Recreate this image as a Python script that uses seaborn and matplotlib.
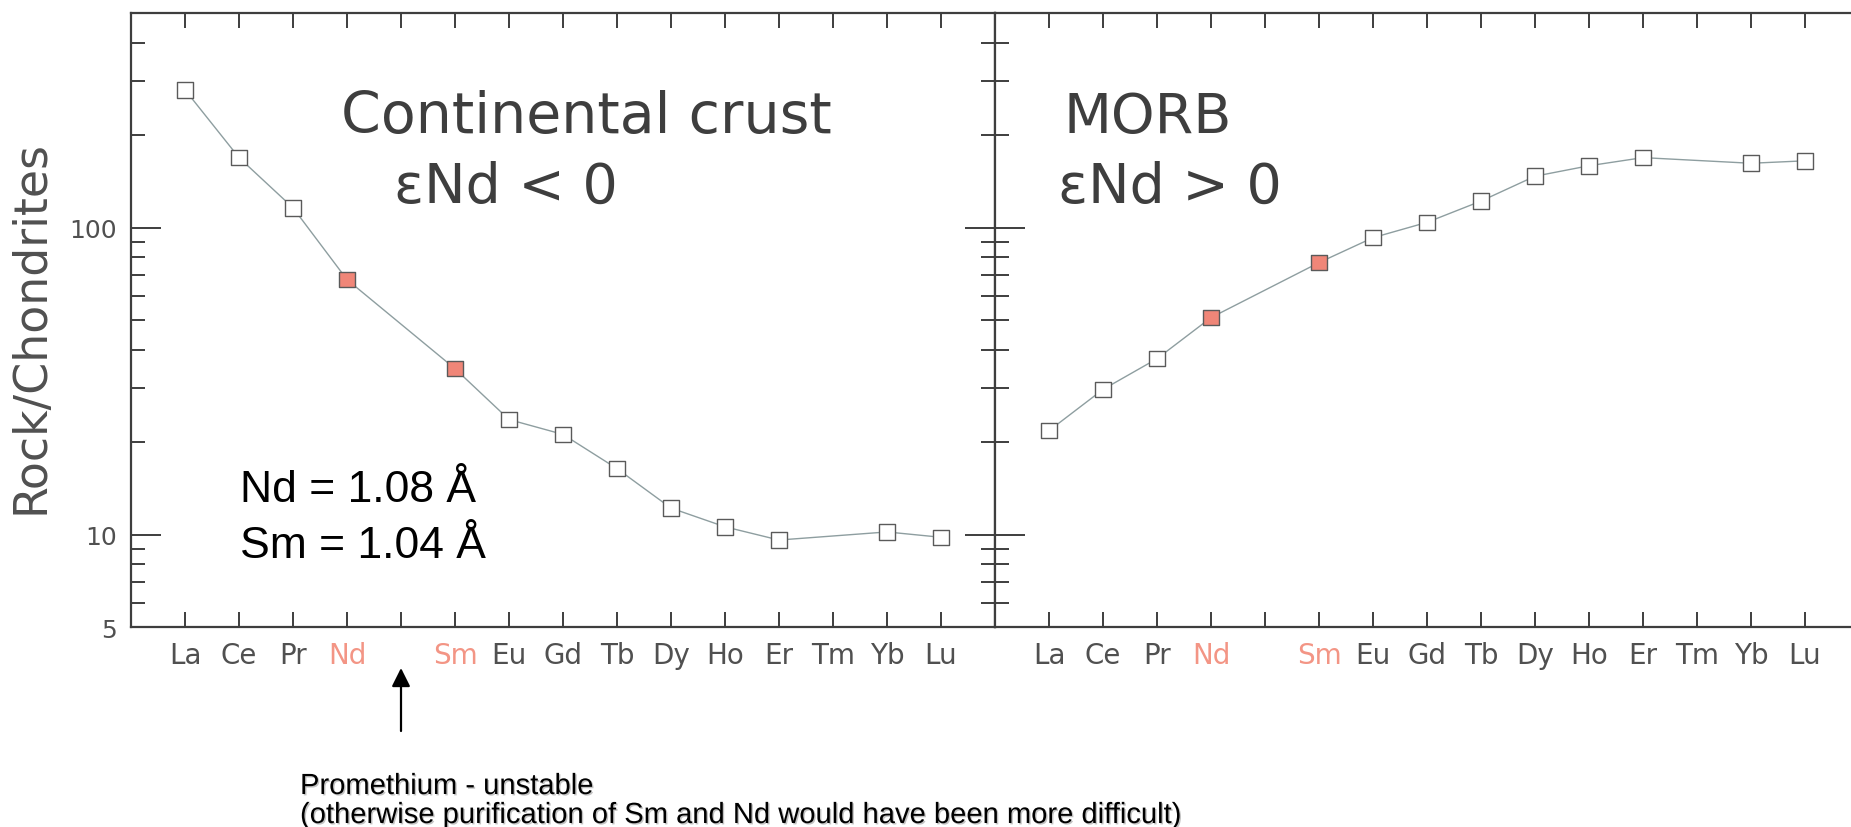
import numpy as np
import matplotlib
matplotlib.use("Agg")
import matplotlib.pyplot as plt
import matplotlib.patheffects as pe
from matplotlib import font_manager
from matplotlib.ticker import FixedLocator, LogLocator, NullFormatter
import pandas as pd
import seaborn as sns

# Rare earth element order (Pm has no stable isotope, so it carries no value)
ree_order = ["La", "Ce", "Pr", "Nd", "Pm", "Sm", "Eu", "Gd", "Tb", "Dy", "Ho", "Er", "Tm", "Yb", "Lu"]
ree_tick_labels = ["La", "Ce", "Pr", "Nd", "", "Sm", "Eu", "Gd", "Tb", "Dy", "Ho", "Er", "Tm", "Yb", "Lu"]
highlight_elements = ["Nd", "Sm"]

# Chondrite-normalised abundances
crust_elements = ["La", "Ce", "Pr", "Nd", "Sm", "Eu", "Gd", "Tb", "Dy", "Ho", "Er", "Yb", "Lu"]
crust_values = [281, 169, 116, 67.7, 34.7, 23.7, 21.2, 16.4, 12.2, 10.6, 9.6, 10.2, 9.8]

morb_elements = ["La", "Ce", "Pr", "Nd", "Sm", "Eu", "Gd", "Tb", "Dy", "Ho", "Er", "Yb", "Lu"]
morb_values = [21.8, 29.7, 37.4, 50.9, 76.9, 92.7, 104, 122, 147, 159, 169, 162, 165]

y_tick_values = [5, 10, 100]
y_tick_labels = ["5", "10", "100"]

sns.set_theme(style="ticks")
plt.rcParams["font.family"] = ["DejaVu Sans"]

INK = "#3e3e3e"
LABEL = "#505050"
SALMON = "#f08678"
SALMON_TEXT = "#f39585"
LINE = "#8e9ea0"

# condensed face for the footnote when available
installed = {f.name for f in font_manager.fontManager.ttflist}
if "Liberation Sans Narrow" in installed:
    note_family, note_size = ["Liberation Sans Narrow", "DejaVu Sans"], 25
else:
    note_family, note_size = ["Liberation Sans", "DejaVu Sans"], 21

W, H = 1851, 828
UNIT = 54.0  # pixels per element slot
fig = plt.figure(figsize=(W / 100, H / 100), dpi=100)
fig.patch.set_facecolor("white")

bottom = 1 - 628 / H
height = 614 / H
ax1 = fig.add_axes([131 / W, bottom, 864 / W, height])
# the right panel runs a little past the page edge
right_w = 890
ax2 = fig.add_axes([995 / W, bottom, right_w / W, height], sharey=ax1)


def draw_panel(ax, elements, values, xmax):
    df = pd.DataFrame({
        "pos": [ree_order.index(e) for e in elements],
        "value": values,
        "kind": ["isotope" if e in highlight_elements else "other" for e in elements],
    })
    sns.lineplot(data=df, x="pos", y="value", ax=ax, color=LINE, lw=1.0,
                 sort=False, estimator=None, zorder=2)
    sns.scatterplot(data=df, x="pos", y="value", hue="kind", ax=ax,
                    palette={"isotope": SALMON, "other": "white"},
                    marker="s", s=125, edgecolor="#5a5a5a", linewidth=1.0,
                    legend=False, zorder=3)

    ax.set_yscale("log")
    ax.set_ylim(5, 500)
    ax.set_xlim(-1, xmax)
    ax.set_xlabel("")
    ax.set_ylabel("")
    ax.set_facecolor("white")

    ax.set_xticks(range(len(ree_order)))
    ax.set_xticklabels(ree_tick_labels, fontsize=20, color=LABEL)
    for lbl, name in zip(ax.get_xticklabels(), ree_order):
        if name in highlight_elements:
            lbl.set_color(SALMON_TEXT)

    ax.yaxis.set_major_locator(FixedLocator(y_tick_values))
    ax.yaxis.set_minor_locator(LogLocator(base=10, subs=np.arange(2, 10)))
    ax.yaxis.set_minor_formatter(NullFormatter())

    ax.tick_params(axis="x", which="both", direction="in", top=True, bottom=True,
                   length=10.5, width=1.4, color=INK, pad=10)
    ax.tick_params(axis="y", which="major", direction="in", left=True, right=True,
                   length=21.5, width=1.4, color=INK, pad=10, labelsize=18,
                   labelcolor=LABEL)
    ax.tick_params(axis="y", which="minor", direction="in", left=True, right=True,
                   length=10, width=1.4, color=INK)
    for sp in ax.spines.values():
        sp.set_visible(True)
        sp.set_color(INK)
        sp.set_linewidth(1.6)


draw_panel(ax1, crust_elements, crust_values, 15)
draw_panel(ax2, morb_elements, morb_values, -1 + right_w / UNIT)

ax1.set_yticklabels(y_tick_labels)
ax2.tick_params(axis="y", which="both", labelleft=False)

# Panel captions
ax1.text(0.5266, 0.806, "Continental crust", transform=ax1.transAxes,
         ha="center", va="baseline", fontsize=41, color=INK)
ax1.text(0.434, 0.692, "\u03b5Nd < 0", transform=ax1.transAxes,
         ha="center", va="baseline", fontsize=40, color=INK)
ax2.text(68 / right_w, 0.806, "MORB", transform=ax2.transAxes,
         ha="left", va="baseline", fontsize=40, color=INK)
ax2.text(63 / right_w, 0.692, "\u03b5Nd > 0", transform=ax2.transAxes,
         ha="left", va="baseline", fontsize=40, color=INK)

# Ionic radii
ax1.text(0.126, 0.205, "Nd = 1.08 \u00c5", transform=ax1.transAxes,
         ha="left", va="baseline", fontsize=32, color="black",
         family=["Liberation Sans", "DejaVu Sans"])
ax1.text(0.126, 0.114, "Sm = 1.04 \u00c5", transform=ax1.transAxes,
         ha="left", va="baseline", fontsize=32, color="black",
         family=["Liberation Sans", "DejaVu Sans"])

# Y axis title
fig.text(31 / W, 1 - 327 / H, "Rock/Chondrites", rotation=90, ha="center",
         va="center", fontsize=33, color=LABEL)

# Arrow pointing at the Pm slot
ax1.annotate("", xy=(ree_order.index("Pm"), -0.0668),
             xytext=(ree_order.index("Pm"), -0.1694),
             xycoords=ax1.get_xaxis_transform(),
             textcoords=ax1.get_xaxis_transform(),
             arrowprops=dict(arrowstyle="-|>", color="black", lw=1.6,
                             mutation_scale=28, shrinkA=0, shrinkB=0),
             annotation_clip=False)

shadow = [pe.SimplePatchShadow(offset=(1.0, -1.0), shadow_rgbFace="#888888", alpha=0.5),
          pe.Normal()]
fig.text(300 / W, 1 - 795 / H, "Promethium - unstable", ha="left", va="baseline",
         fontsize=note_size, color="black", family=note_family,
         path_effects=shadow)
fig.text(300 / W, 1 - 824 / H,
         "(otherwise purification of Sm and Nd would have been more difficult)",
         ha="left", va="baseline", fontsize=note_size, color="black",
         family=note_family, path_effects=shadow)

fig.savefig("out.png", dpi=100, facecolor="white")
